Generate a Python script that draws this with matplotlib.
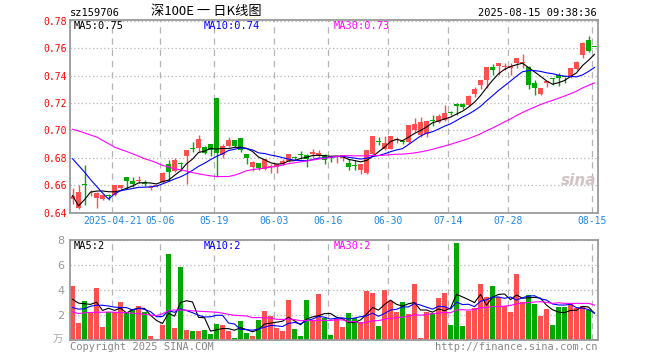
import numpy as np
import matplotlib
matplotlib.use("Agg")
from matplotlib import pyplot as plt

plt.rcParams['font.family'] = ['DejaVu Sans Mono', 'Noto Sans CJK SC']

# trading-day index of each labelled date, and the labels
tick_idx = [7, 15, 24, 34, 43, 53, 63, 73, 87]
tick_lbl = ['2025-04-21', '05-06', '05-19', '06-03', '06-16',
            '06-30', '07-14', '07-28', '08-15']

open_ = [0.6500, 0.6437, 0.6612, 0.6555, 0.6505, 0.6500, 0.6527, 0.6528, 0.6578, 0.6662,
         0.6632, 0.6635, 0.6615, 0.6578, 0.6592, 0.6625, 0.6756, 0.6706, 0.6762, 0.6817,
         0.6866, 0.6869, 0.6877, 0.6899, 0.7235, 0.6818, 0.6884, 0.6928, 0.6948, 0.6825,
         0.6737, 0.6764, 0.6720, 0.6733, 0.6733, 0.6752, 0.6777, 0.6802, 0.6826, 0.6818,
         0.6830, 0.6813, 0.6818, 0.6802, 0.6804, 0.6801, 0.6762, 0.6745, 0.6708, 0.6689,
         0.6830, 0.6915, 0.6867, 0.6867, 0.6930, 0.6915, 0.6916, 0.7007, 0.6965, 0.6975,
         0.7070, 0.7062, 0.7074, 0.7129, 0.7196, 0.7196, 0.7183, 0.7264, 0.7330, 0.7372,
         0.7465, 0.7473, 0.7464, 0.7453, 0.7495, 0.7496, 0.7465, 0.7345, 0.7264, 0.7343,
         0.7380, 0.7404, 0.7393, 0.7387, 0.7448, 0.7551, 0.7661, 0.7608]
high = [0.6580, 0.6600, 0.6745, 0.6565, 0.6548, 0.6538, 0.6533, 0.6603, 0.6605, 0.6663,
        0.6660, 0.6665, 0.6638, 0.6603, 0.6605, 0.6695, 0.6788, 0.6798, 0.6773, 0.6856,
        0.6914, 0.6965, 0.6884, 0.6900, 0.7235, 0.6904, 0.6953, 0.6928, 0.6948, 0.6825,
        0.6777, 0.6765, 0.6789, 0.6752, 0.6755, 0.6794, 0.6826, 0.6811, 0.6850, 0.6830,
        0.6867, 0.6855, 0.6825, 0.6811, 0.6816, 0.6818, 0.6791, 0.6781, 0.6752, 0.6855,
        0.6962, 0.6953, 0.6958, 0.6960, 0.6953, 0.6934, 0.7040, 0.7094, 0.7100, 0.7068,
        0.7115, 0.7122, 0.7184, 0.7139, 0.7198, 0.7203, 0.7257, 0.7318, 0.7368, 0.7466,
        0.7482, 0.7491, 0.7490, 0.7490, 0.7530, 0.7558, 0.7467, 0.7367, 0.7312, 0.7361,
        0.7380, 0.7416, 0.7393, 0.7454, 0.7509, 0.7643, 0.7691, 0.7608]
low = [0.6460, 0.6430, 0.6457, 0.6520, 0.6437, 0.6494, 0.6495, 0.6521, 0.6558, 0.6570,
       0.6588, 0.6615, 0.6592, 0.6565, 0.6585, 0.6620, 0.6632, 0.6694, 0.6705, 0.6607,
       0.6844, 0.6842, 0.6830, 0.6817, 0.6660, 0.6801, 0.6880, 0.6880, 0.6843, 0.6757,
       0.6703, 0.6715, 0.6708, 0.6689, 0.6689, 0.6750, 0.6770, 0.6781, 0.6794, 0.6733,
       0.6801, 0.6806, 0.6757, 0.6767, 0.6764, 0.6777, 0.6713, 0.6713, 0.6684, 0.6684,
       0.6820, 0.6891, 0.6859, 0.6865, 0.6909, 0.6904, 0.6909, 0.6990, 0.6953, 0.6950,
       0.7036, 0.7056, 0.7070, 0.7115, 0.7115, 0.7159, 0.7178, 0.7245, 0.7301, 0.7311,
       0.7404, 0.7404, 0.7441, 0.7404, 0.7458, 0.7458, 0.7301, 0.7262, 0.7257, 0.7318,
       0.7330, 0.7325, 0.7343, 0.7384, 0.7441, 0.7526, 0.7575, 0.7606]
close = [0.6525, 0.6553, 0.6605, 0.6560, 0.6547, 0.6528, 0.6525, 0.6602, 0.6603, 0.6635,
         0.6607, 0.6640, 0.6612, 0.6590, 0.6600, 0.6690, 0.6694, 0.6788, 0.6758, 0.6854,
         0.6862, 0.6936, 0.6837, 0.6854, 0.6835, 0.6884, 0.6928, 0.6884, 0.6855, 0.6801,
         0.6767, 0.6723, 0.6789, 0.6743, 0.6752, 0.6777, 0.6826, 0.6800, 0.6824, 0.6794,
         0.6843, 0.6835, 0.6786, 0.6800, 0.6806, 0.6818, 0.6737, 0.6743, 0.6752, 0.6855,
         0.6960, 0.6913, 0.6909, 0.6958, 0.6934, 0.6913, 0.7040, 0.7049, 0.7060, 0.7066,
         0.7066, 0.7105, 0.7124, 0.7126, 0.7178, 0.7171, 0.7252, 0.7306, 0.7367, 0.7465,
         0.7441, 0.7490, 0.7466, 0.7473, 0.7529, 0.7498, 0.7330, 0.7311, 0.7311, 0.7360,
         0.7378, 0.7384, 0.7391, 0.7453, 0.7497, 0.7642, 0.7580, 0.7606]
# volume, 万手
volume = [4.32, 1.36, 3.12, 2.13, 4.19, 1.04, 2.21, 2.27, 3.07, 2.21,
          2.40, 2.75, 2.21, 0.35, 0.10, 1.20, 6.88, 0.99, 5.84, 0.80,
          0.72, 0.72, 0.80, 0.51, 1.31, 1.23, 0.69, 0.16, 1.52, 0.59,
          0.32, 1.60, 2.32, 1.92, 0.96, 0.72, 3.20, 0.88, 0.35, 3.20,
          1.60, 3.68, 1.73, 0.40, 1.68, 1.04, 2.16, 1.73, 1.41, 3.92,
          3.76, 1.12, 4.00, 3.15, 2.24, 3.04, 2.08, 4.48, 0.16, 2.24,
          2.16, 3.39, 3.76, 1.20, 7.76, 1.12, 2.32, 2.56, 4.48, 3.44,
          4.32, 3.44, 2.72, 2.24, 5.28, 3.04, 3.60, 2.88, 1.95, 2.48,
          1.20, 2.64, 2.64, 2.88, 2.56, 2.72, 2.40, 0.08]

# moving-average values before enough days exist in the window
ma5_head = [0.6525, 0.6450, 0.6495, 0.6550]
ma10_head = [0.6794, 0.6745, 0.6696, 0.6642, 0.6593, 0.6544, 0.6500, 0.6537, 0.6561]
ma30_head = [0.7009, 0.6997, 0.6982, 0.6967, 0.6953, 0.6928, 0.6904, 0.6879, 0.6862, 0.6847,
             0.6830, 0.6813, 0.6794, 0.6781, 0.6764, 0.6745, 0.6733, 0.6720, 0.6713, 0.6703,
             0.6693, 0.6684, 0.6676, 0.6669, 0.6664, 0.6664, 0.6664, 0.6674, 0.6689]
vma5_head = [3.25, 2.95, 2.90, 2.85]
vma10_head = [2.60, 2.47, 2.50, 2.70, 2.78, 2.78, 2.72, 2.63, 2.60]
vma30_head = [2.25, 2.12, 2.18, 2.20, 2.22, 2.22, 2.24, 2.22, 2.20, 2.18,
              2.14, 2.12, 2.05, 2.00, 1.95, 2.10, 2.35, 2.40, 2.40, 2.38,
              2.33, 2.30, 2.28, 2.25, 2.22, 2.15, 2.05, 1.98, 1.95]


def ma(vals, n, head):
    out = np.convolve(np.asarray(vals), np.ones(n) / n, mode='valid')
    return np.concatenate([head, out])


RED = '#ff5050'
GREEN = '#00a800'
GRID = '#b4b4b4'
EDGE = '#9a9a9a'
W, H = 660, 360

x = np.arange(len(close))
o = np.array(open_)
c = np.array(close)
up = c >= o
cols = np.where(up, RED, GREEN)

fig = plt.figure(figsize=(6.6, 3.6), dpi=100)
ax = fig.add_axes([70.3 / W, 1 - 212.7 / H, 527.2 / W, 193.2 / H])
axv = fig.add_axes([70.3 / W, 1 - 340 / H, 527.2 / W, 100 / H])

# candles
ax.vlines(x, low, high, colors=cols, lw=1)
body = np.maximum(np.abs(c - o), 0.0007)
ax.bar(x, body, bottom=np.minimum(o, c), width=0.8, color=cols, lw=0)

ax.plot(x, ma(close, 5, ma5_head), color='black', lw=0.8)
ax.plot(x, ma(close, 10, ma10_head), color='blue', lw=0.8)
ax.plot(x, ma(close, 30, ma30_head), color='#ff00ff', lw=0.8)

ax.set_xlim(-0.37, 87.5)
ax.set_ylim(0.64, 0.781)
yt = np.arange(0.64, 0.7801, 0.02)
ax.set_yticks(yt)
ax.set_yticklabels(['%.2f' % v for v in yt], color='red', fontsize=7)
ax.set_xticks([t - 0.35 for t in tick_idx])
ax.set_xticklabels(tick_lbl, color='#1e88e5', fontsize=7)
ax.tick_params(length=0, pad=2.5)
ax.yaxis.grid(True, ls=(0, (1, 2)), color=GRID, lw=0.9)
ax.xaxis.grid(True, ls=(0, (5, 4)), color=GRID, lw=0.9)

ax.text(0.998, 0.13, 'sina', transform=ax.transAxes, ha='right', va='bottom',
        fontsize=11, fontstyle='italic', fontweight='bold', color='#d2c4c4',
        family='DejaVu Sans')

# volume
axv.bar(x, volume, width=0.8, color=cols, lw=0)
axv.plot(x, ma(volume, 5, vma5_head), color='black', lw=0.8)
axv.plot(x, ma(volume, 10, vma10_head), color='blue', lw=0.8)
axv.plot(x, ma(volume, 30, vma30_head), color='#ff00ff', lw=0.8)
axv.set_xlim(-0.37, 87.5)
axv.set_ylim(0, 8)
axv.set_yticks([2, 4, 6, 8])
axv.set_yticklabels(['2', '4', '6', '8'], color='#999999', fontsize=8,
                    family='DejaVu Sans')
axv.set_xticks([t - 0.35 for t in tick_idx])
axv.set_xticklabels([])
axv.tick_params(length=0, pad=4)
axv.yaxis.grid(True, ls=(0, (1, 2)), color=GRID, lw=0.9)
axv.xaxis.grid(True, ls=(0, (5, 4)), color=GRID, lw=0.9)

for a in (ax, axv):
    a.set_axisbelow(True)
    for s in a.spines.values():
        s.set_color(EDGE)
        s.set_linewidth(1.3)


def ftxt(px, py, s, **kw):
    fig.text(px / W, 1 - py / H, s, va='center', **kw)


ftxt(70, 13, 'sz159706', fontsize=7.5, color='black')
ftxt(206, 12, '深100E 一 日K线图', fontsize=9.5, color='black', ha='center',
     family=['Noto Sans CJK SC'])
ftxt(597, 13, '2025-08-15 09:38:36', fontsize=7.5, color='black', ha='right')

m5 = np.floor(ma(close, 5, ma5_head)[-1] * 100) / 100
m10 = np.floor(ma(close, 10, ma10_head)[-1] * 100) / 100
m30 = np.floor(ma(close, 30, ma30_head)[-1] * 100) / 100
ftxt(74, 26, 'MA5:%.2f' % m5, fontsize=7.5, color='black')
ftxt(204, 26, 'MA10:%.2f' % m10, fontsize=7.5, color='blue')
ftxt(334, 26, 'MA30:%.2f' % m30, fontsize=7.5, color='#ff00ff')

v5 = int(ma(volume, 5, vma5_head)[-1])
v10 = int(ma(volume, 10, vma10_head)[-1])
v30 = int(ma(volume, 30, vma30_head)[-1])
ftxt(74, 246, 'MA5:%d' % v5, fontsize=7.5, color='black')
ftxt(204, 246, 'MA10:%d' % v10, fontsize=7.5, color='blue')
ftxt(334, 246, 'MA30:%d' % v30, fontsize=7.5, color='#ff00ff')

ftxt(63, 340, '万', fontsize=7.5, color='#aaaaaa', ha='right',
     family=['Noto Sans CJK SC'])
ftxt(70, 347, 'Copyright 2025 SINA.COM', fontsize=7.5, color='#888888')
ftxt(597, 347, 'http://finance.sina.com.cn', fontsize=7.5, color='#888888', ha='right')

fig.savefig('out.png', dpi=100)
